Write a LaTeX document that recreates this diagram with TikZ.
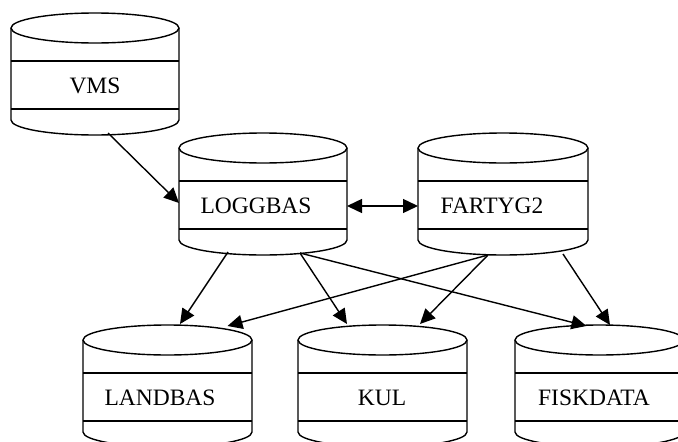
\documentclass[tikz,border=0pt]{standalone}
\usepackage{fontspec}
\setmainfont{Liberation Serif}
\usetikzlibrary{arrows.meta,calc}
\tikzset{
  cyl/.style={line width=1.4pt, line join=round},
  cylbody/.style={draw=none, rectangle, inner sep=0pt, outer sep=0pt},
  lbl/.style={anchor=base, inner sep=0pt, font=\fontsize{23.5}{24}\selectfont},
  arr/.style={line width=1.4pt, -{Triangle[length=15pt,width=14pt]}},
  arrboth/.style={line width=1.4pt, {Triangle[length=15pt,width=14pt]}-{Triangle[length=15pt,width=14pt]}}
}
\newcommand\dbcyl[6]{%
  \pgfmathsetmacro\cxc{(#2+#3)/2}%
  \pgfmathsetmacro\crx{(#3-#2)/2}%
  \pgfmathsetmacro\cw{#3-#2}%
  \node[cylbody, minimum width=\cw pt, minimum height=122pt] (#1) at (\cxc,#4+46) {};
  \draw[cyl] (\cxc,#4) ellipse [x radius=\crx, y radius=15];
  \draw[cyl] (#2,#4) -- (#2,#4+92) arc[start angle=180, end angle=0, x radius=\crx, y radius=15] -- (#3,#4);
  \draw[cyl] (#2,#4+33) -- (#3,#4+33) (#2,#4+81) -- (#3,#4+81);
  \node[lbl] (#1-t) at (#6,#4+65) {#5};
}
\begin{document}
\begin{tikzpicture}[x=1pt,y=-1pt]
\useasboundingbox (0,0) rectangle (678,442);
\clip (0,0) rectangle (678,442);
\dbcyl{vms}{11}{179}{28}{VMS}{95}
\dbcyl{loggbas}{179}{347}{148}{LOGGBAS}{256}
\dbcyl{fartyg}{418}{588}{148}{FARTYG2}{492}
\dbcyl{landbas}{83}{252}{340}{LANDBAS}{160}
\dbcyl{kul}{298}{467}{340}{KUL}{382}
\dbcyl{fisk}{515}{684}{340}{FISKDATA}{594}

\draw[arr] ($(vms.south)+(13,-2)$) -- ($(loggbas.west)+(0,9)$);
\draw[arrboth] ($(loggbas.east)+(0,12)$) -- ($(fartyg.west)+(0,12)$);
\draw[arr] ($(loggbas.south)+(-35,-3)$) -- ($(landbas.north)+(12.5,-1)$);
\draw[arr] ($(loggbas.south)+(37,-2)$) -- ($(kul.north)+(-35.5,-1)$);
\draw[arr] ($(loggbas.south)+(37,-2)$) -- ($(fisk.north)+(-13,1)$);
\draw[arr] ($(fartyg.south)+(-15,0)$) -- ($(landbas.north)+(60,1)$);
\draw[arr] ($(fartyg.south)+(-15,0)$) -- ($(kul.north)+(37.5,-1)$);
\draw[arr] ($(fartyg.south)+(60,-1)$) -- ($(fisk.north)+(10.5,0)$);
\end{tikzpicture}
\end{document}
